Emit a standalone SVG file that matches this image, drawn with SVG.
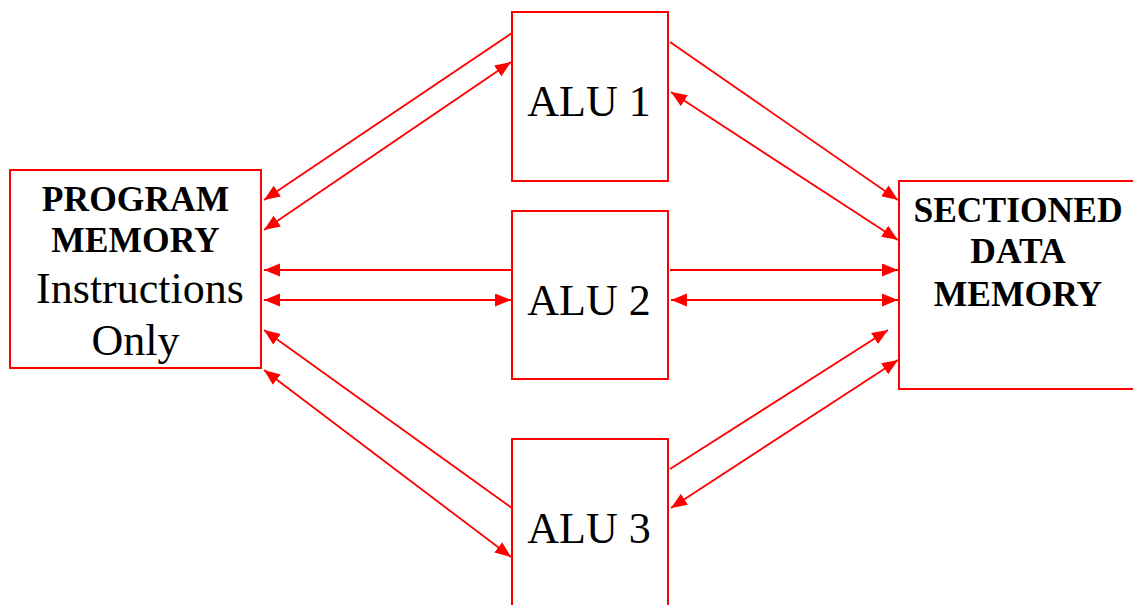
<svg xmlns="http://www.w3.org/2000/svg" width="1133" height="605" viewBox="0 0 1133 605">
  <defs>
    <style>
      .box { fill: #ffffff; stroke: #ff0000; stroke-width: 2; }
      .wire { stroke: #ff0000; stroke-width: 1.8; fill: none; }
      .one { marker-end: url(#head); }
      .two { marker-start: url(#head); marker-end: url(#head); }
      .bold { font-family: "Liberation Serif", "Times New Roman", serif; font-weight: bold; font-size: 35.5px; fill: #000; text-anchor: middle; }
      .reg { font-family: "Liberation Serif", "Times New Roman", serif; font-size: 44px; fill: #000; text-anchor: middle; }
      .alu { font-family: "Liberation Serif", "Times New Roman", serif; font-size: 44px; fill: #000; text-anchor: middle; }
    </style>
    <marker id="head" markerUnits="userSpaceOnUse" markerWidth="17" markerHeight="14" refX="16" refY="6.5" orient="auto-start-reverse">
      <path d="M0,0 L16,6.5 L0,13 z" fill="#ff0000"/>
    </marker>
  </defs>

  <rect width="1133" height="605" fill="#ffffff"/>

  <!-- Program memory -->
  <g id="program-memory">
    <rect class="box" x="10" y="170" width="251" height="198"/>
    <text class="bold" x="135.5" y="211">PROGRAM</text>
    <text class="bold" x="135.5" y="252">MEMORY</text>
    <text class="reg" x="140" y="303">Instructions</text>
    <text class="reg" x="135.5" y="355">Only</text>
  </g>

  <!-- ALU units -->
  <g id="alu-1">
    <rect class="box" x="512" y="12" width="156" height="169"/>
    <text class="alu" x="589" y="116">ALU 1</text>
  </g>
  <g id="alu-2">
    <rect class="box" x="512" y="211" width="156" height="168"/>
    <text class="alu" x="589" y="315">ALU 2</text>
  </g>
  <g id="alu-3">
    <rect class="box" x="512" y="439" width="156" height="180"/>
    <text class="alu" x="589" y="543">ALU 3</text>
  </g>

  <!-- Sectioned data memory -->
  <g id="data-memory">
    <rect class="box" x="899" y="181" width="250" height="208"/>
    <text class="bold" x="1018" y="222">SECTIONED</text>
    <text class="bold" x="1018" y="263">DATA</text>
    <text class="bold" x="1018" y="306">MEMORY</text>
  </g>

  <!-- Buses -->
  <g id="connectors">
    <!-- program memory side -->
    <line class="wire one" x1="512" y1="33" x2="264" y2="200"/>
    <line class="wire two" x1="264" y1="230" x2="511" y2="62"/>
    <line class="wire one" x1="512" y1="270" x2="264" y2="270"/>
    <line class="wire two" x1="264" y1="300" x2="511" y2="300"/>
    <line class="wire one" x1="512" y1="508" x2="264" y2="330"/>
    <line class="wire two" x1="264" y1="370" x2="511" y2="557"/>
    <!-- data memory side -->
    <line class="wire one" x1="670" y1="42" x2="898" y2="200"/>
    <line class="wire two" x1="671" y1="92" x2="898" y2="240"/>
    <line class="wire one" x1="670" y1="270" x2="898" y2="270"/>
    <line class="wire two" x1="671" y1="300" x2="898" y2="300"/>
    <line class="wire one" x1="670" y1="469" x2="888" y2="330"/>
    <line class="wire two" x1="671" y1="508" x2="898" y2="360"/>
  </g>
</svg>
